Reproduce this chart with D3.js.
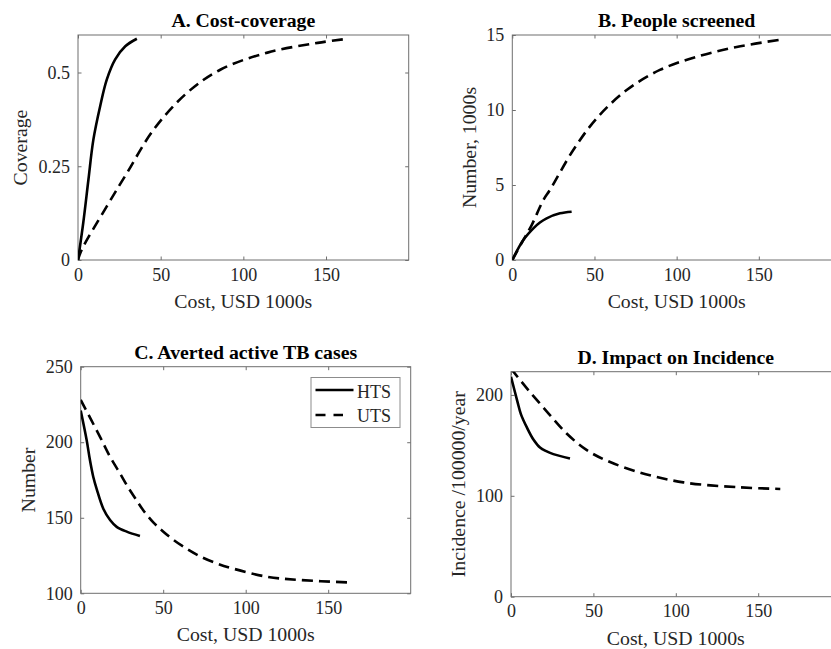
<!DOCTYPE html>
<html>
<head>
<meta charset="utf-8">
<script src="https://cdn.jsdelivr.net/npm/d3@7"></script>
<style>
  body { margin: 0; background: #fff; }
  svg { display: block; font-family: "Liberation Serif", "Times New Roman", serif; }
</style>
</head>
<body>
<svg width="831" height="649"></svg>
<script>
// x ticks shared by all panels (cost, USD 1000s)
var costTicks = [0, 50, 100, 150];

// A. Cost-coverage
var costA_HTS = [0, 3.2, 6.3, 9.3, 13.4, 17.4, 22.5, 28.6, 35.6];
var covA_HTS  = [0, 0.1, 0.214, 0.321, 0.41, 0.481, 0.535, 0.570, 0.590];
var costA_UTS = [0, 2.2, 17.4, 29.6, 45.8, 66, 86.3, 114.6, 145, 163.2];
var covA_UTS  = [0, 0.027, 0.143, 0.232, 0.348, 0.446, 0.508, 0.553, 0.579, 0.590];
var ticksA = [0, 0.25, 0.5];

// B. People screened (1000s)
var costB_HTS = [0, 6.7, 12.8, 16.8, 20.9, 29, 36.1];
var numB_HTS  = [0, 1.33, 2.11, 2.5, 2.78, 3.11, 3.22];
var costB_UTS = [0, 6, 11.8, 18.9, 22.9, 37.1, 51.3, 69.6, 89.8, 112.2, 136.5, 163.9];
var numB_UTS  = [0, 1.2, 2.33, 4.0, 4.67, 7.33, 9.44, 11.33, 12.67, 13.55, 14.2, 14.7];
var ticksB = [0, 5, 10, 15];

// C. Averted active TB cases
var costC_HTS = [0, 3.6, 5.6, 7.6, 9.7, 13.7, 17.8, 21.8, 27.9, 35.9];
var numC_HTS  = [221, 201.5, 188.2, 177.2, 169, 156, 148.5, 144, 140.8, 137.9];
var costC_UTS = [0, 11.7, 17.8, 23.8, 28.8, 33.9, 37.9, 44, 50.1, 56.1, 64.2, 72.3, 82.4, 92.5, 112.7, 133, 162.2];
var numC_UTS  = [228, 203.6, 190.4, 179.4, 170, 161.5, 155, 147, 140.8, 135.5, 129.5, 124.5, 119.8, 116.3, 111, 108.8, 107.2];
var ticksC = [100, 150, 200, 250];

// D. Impact on incidence
var costD_HTS = [0, 3.9, 6, 9.7, 13.7, 17.6, 21.7, 25.7, 35.8];
var incD_HTS  = [218, 193.4, 181, 167.5, 155.5, 147.8, 144, 141.3, 137.0];
var costD_UTS = [0, 9.4, 21.5, 33.6, 45.8, 57.9, 78.2, 104.6, 139.1, 163.4];
var incD_UTS  = [226, 207, 184, 162, 145.5, 135, 123.1, 113.3, 108.4, 106.8];
var ticksD = [0, 100, 200];

var seriesNames = ["HTS", "UTS"];

function zip(xs, ys) {
  return xs.map(function(x, i) { return [x, ys[i]]; });
}

var svg = d3.select('svg');

function drawPanel(p) {
  var x = d3.scaleLinear().domain([0, 200]).range([p.left, p.right]);
  var y = d3.scaleLinear().domain(p.ydom).range([p.bottom, p.top]);
  var g = svg.append('g');

  var clipId = 'clip' + p.id;
  g.append('clipPath').attr('id', clipId)
    .append('rect')
      .attr('x', p.left).attr('y', p.top)
      .attr('width', p.right - p.left).attr('height', p.bottom - p.top);

  // axes box with inward ticks on all sides
  var tick = 3.5;
  var axisColor = '#6e6e6e';
  g.append('g').attr('transform', 'translate(0,' + p.bottom + ')')
    .call(d3.axisBottom(x).tickValues(costTicks).tickSizeInner(-tick).tickSizeOuter(0).tickPadding(8));
  g.append('g').attr('transform', 'translate(0,' + p.top + ')')
    .call(d3.axisTop(x).tickValues(costTicks).tickSizeInner(-tick).tickSizeOuter(0).tickFormat(''));
  g.append('g').attr('transform', 'translate(' + p.left + ',0)')
    .call(d3.axisLeft(y).tickValues(p.yticks).tickSizeInner(-tick).tickSizeOuter(0).tickPadding(8)
      .tickFormat(function(d) { return String(d); }));
  g.append('g').attr('transform', 'translate(' + p.right + ',0)')
    .call(d3.axisRight(y).tickValues(p.yticks).tickSizeInner(-tick).tickSizeOuter(0).tickFormat(''));

  g.selectAll('.domain').remove();
  g.selectAll('.tick line').attr('stroke', axisColor);
  g.selectAll('.tick text')
    .attr('font-family', '"Liberation Serif", "Times New Roman", serif')
    .attr('font-size', 18).attr('fill', '#262626');

  g.append('rect')
    .attr('x', p.left).attr('y', p.top)
    .attr('width', p.right - p.left).attr('height', p.bottom - p.top)
    .attr('fill', 'none').attr('stroke', axisColor).attr('stroke-width', 1);

  var line = d3.line()
    .x(function(d) { return x(d[0]); })
    .y(function(d) { return y(d[1]); })
    .curve(d3.curveCatmullRom.alpha(0.5));

  var lines = g.append('g').attr('clip-path', 'url(#' + clipId + ')');
  lines.append('path').datum(zip(p.hx, p.hy))
    .attr('d', line).attr('fill', 'none').attr('stroke', '#000').attr('stroke-width', 2.6);
  lines.append('path').datum(zip(p.ux, p.uy))
    .attr('d', line).attr('fill', 'none').attr('stroke', '#000').attr('stroke-width', 2.6)
    .attr('stroke-dasharray', '11,6');

  // title
  g.append('text')
    .attr('x', (p.left + p.right) / 2).attr('y', p.top - 8)
    .attr('text-anchor', 'middle').attr('font-weight', 'bold').attr('font-size', 19.8)
    .text(p.title);

  // axis labels
  g.append('text')
    .attr('x', (p.left + p.right) / 2).attr('y', p.bottom + 48)
    .attr('text-anchor', 'middle').attr('font-size', 19.8).attr('fill', '#262626')
    .text('Cost, USD 1000s');
  g.append('text')
    .attr('transform', 'translate(' + (p.left - p.ylabOff) + ',' + ((p.top + p.bottom) / 2) + ') rotate(-90)')
    .attr('text-anchor', 'middle').attr('font-size', 19.8).attr('fill', '#262626')
    .text(p.ylabel);

  if (p.legend) {
    var lg = g.append('g');
    lg.append('rect')
      .attr('x', 311).attr('y', 377.5).attr('width', 89).attr('height', 50)
      .attr('fill', '#fff').attr('stroke', '#8c8c8c').attr('stroke-width', 1);
    lg.selectAll('line.leg').data(seriesNames).enter().append('line')
      .attr('x1', 315.5)
      .attr('x2', function(d, i) { return i === 0 ? 353.5 : 343; })
      .attr('y1', function(d, i) { return 390 + i * 25; })
      .attr('y2', function(d, i) { return 390 + i * 25; })
      .attr('stroke', '#000').attr('stroke-width', 2.6)
      .attr('stroke-dasharray', function(d, i) { return i === 0 ? null : '10,8'; });
    lg.selectAll('text.leg').data(seriesNames).enter().append('text')
      .attr('x', 357).attr('y', function(d, i) { return 398 + i * 24; })
      .attr('font-size', 18).attr('fill', '#262626')
      .text(function(d) { return d; });
  }
}

drawPanel({ id: 'A', left: 78, right: 408.7, top: 35, bottom: 260, ydom: [0, 0.6], yticks: ticksA,
  hx: costA_HTS, hy: covA_HTS, ux: costA_UTS, uy: covA_UTS,
  title: 'A. Cost-coverage', ylabel: 'Coverage', ylabOff: 51 });

drawPanel({ id: 'B', left: 512.3, right: 841, top: 35, bottom: 260, ydom: [0, 15], yticks: ticksB,
  hx: costB_HTS, hy: numB_HTS, ux: costB_UTS, uy: numB_UTS,
  title: 'B. People screened', ylabel: 'Number, 1000s', ylabOff: 36 });

drawPanel({ id: 'C', left: 80.7, right: 410.7, top: 366.7, bottom: 593.3, ydom: [100, 250], yticks: ticksC,
  hx: costC_HTS, hy: numC_HTS, ux: costC_UTS, uy: numC_UTS,
  title: 'C. Averted active TB cases', ylabel: 'Number', ylabOff: 46, legend: true });

drawPanel({ id: 'D', left: 511, right: 840.6, top: 371.7, bottom: 596.7, ydom: [0, 223], yticks: ticksD,
  hx: costD_HTS, hy: incD_HTS, ux: costD_UTS, uy: incD_UTS,
  title: 'D. Impact on Incidence', ylabel: 'Incidence /100000/year', ylabOff: 46 });
</script>
</body>
</html>
